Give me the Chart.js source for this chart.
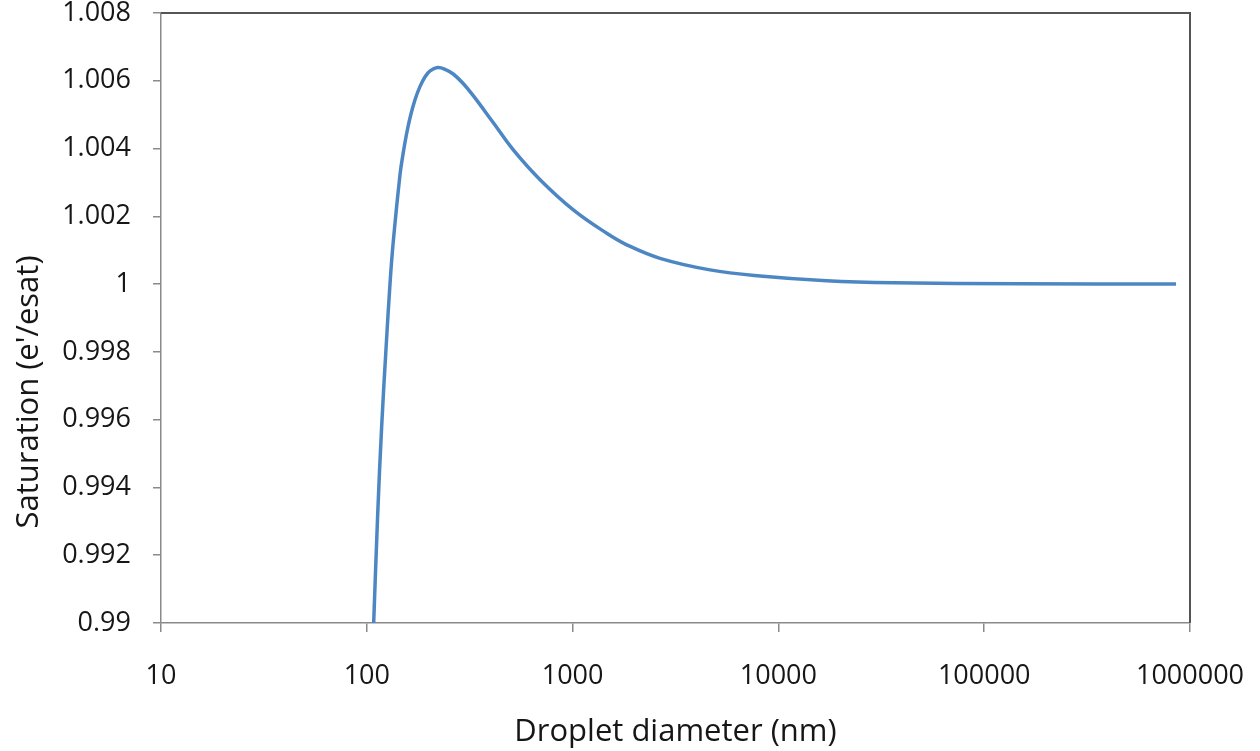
<!DOCTYPE html>
<html>
<head>
<meta charset="utf-8">
<style>
  html, body { margin: 0; padding: 0; background: #ffffff; }
  #wrap { width: 1260px; height: 751px; position: relative; }
</style>
<script src="https://cdn.jsdelivr.net/npm/chart.js@4/dist/chart.umd.min.js"></script>
</head>
<body>
<div id="wrap"><canvas id="chart" width="1260" height="751"></canvas></div>
<script>
// Köhler curve: equilibrium saturation ratio over a solution droplet
const diameterNm = [
  108, 113, 118, 124, 130, 134.5, 145, 150, 156, 163, 171.5, 181, 192, 203,
  220, 240, 263, 294, 329, 412, 515, 695, 1008, 1465, 1832, 2659, 4653,
  8140, 17170, 36170, 149300, 855000
];
const saturation = [
  0.9900, 0.99323, 0.99576, 0.99810, 1.00012, 1.00126, 1.00323, 1.00384, 1.00443,
  1.00496, 1.00544, 1.00582, 1.00612, 1.00629, 1.00639, 1.00634, 1.00620, 1.00592,
  1.00556, 1.00476, 1.00396, 1.00308, 1.00219, 1.0015, 1.00116, 1.00076, 1.00042,
  1.00024, 1.0001, 1.00004, 1.00001, 1.0
];
const xTickValues = [10, 100, 1000, 10000, 100000, 1000000];
const yTickValues = [0.99, 0.992, 0.994, 0.996, 0.998, 1, 1.002, 1.004, 1.006, 1.008];

const xTitle = 'Droplet diameter (nm)';
const yTitle = "Saturation (e'/esat)";

const FONT = "'Open Sans', 'DejaVu Sans', sans-serif";
const TEXT = '#161616';
const AXIS = '#8a8a8a';
const FRAME = '#555555';

const points = diameterNm.map((d, i) => ({ x: d, y: saturation[i] }));

// closes the plot box on the top and right, and writes the vertical axis title
const frameAndTitle = {
  id: 'frameAndTitle',
  afterDraw(chart) {
    const { ctx, chartArea: a } = chart;
    ctx.save();
    ctx.strokeStyle = FRAME;
    ctx.lineWidth = 2;
    ctx.beginPath();
    ctx.moveTo(a.left, a.top);
    ctx.lineTo(a.right, a.top);
    ctx.lineTo(a.right, a.bottom);
    ctx.stroke();

    ctx.fillStyle = TEXT;
    ctx.font = "31px " + FONT;
    ctx.textAlign = 'center';
    ctx.textBaseline = 'middle';
    ctx.translate(29, a.bottom - 231);
    ctx.rotate(-Math.PI / 2);
    ctx.fillText(yTitle, 0, 0);
    ctx.restore();
  }
};

new Chart(document.getElementById('chart'), {
  type: 'line',
  data: {
    datasets: [{
      data: points,
      borderColor: '#4d87c3',
      borderWidth: 3.5,
      pointRadius: 0,
      fill: false,
      tension: 0.4
    }]
  },
  options: {
    responsive: false,
    animation: false,
    events: [],
    layout: { padding: { top: 13, right: 70, left: 0, bottom: 0 } },
    plugins: { legend: { display: false }, tooltip: { enabled: false } },
    scales: {
      x: {
        type: 'logarithmic',
        min: 10,
        max: 1000000,
        afterBuildTicks(scale) { scale.ticks = xTickValues.map(v => ({ value: v })); },
        afterFit(scale) {
          scale.height = 128;
          scale.paddingLeft = 0;
          scale.paddingRight = 0;
        },
        grid: { display: true, drawOnChartArea: false, drawTicks: true, tickLength: 9, color: AXIS, lineWidth: 1.5 },
        border: { display: true, color: AXIS, width: 1.5 },
        ticks: {
          autoSkip: false,
          maxRotation: 0,
          padding: 28,
          color: TEXT,
          font: { family: FONT, size: 27 },
          callback: v => String(v)
        },
        title: {
          display: true,
          text: xTitle,
          color: TEXT,
          font: { family: FONT, size: 31 },
          padding: { top: 0, bottom: 0 }
        }
      },
      y: {
        type: 'linear',
        min: 0.99,
        max: 1.008,
        afterBuildTicks(scale) { scale.ticks = yTickValues.map(v => ({ value: v })); },
        afterFit(scale) {
          scale.width = 161;
          scale.paddingTop = 0;
          scale.paddingBottom = 0;
        },
        grid: { display: true, drawOnChartArea: false, drawTicks: true, tickLength: 8, color: AXIS, lineWidth: 1.5 },
        border: { display: true, color: AXIS, width: 1.5 },
        ticks: {
          autoSkip: false,
          padding: 22,
          color: TEXT,
          font: { family: FONT, size: 27 },
          callback: v => String(parseFloat(Number(v).toFixed(3)))
        }
      }
    }
  },
  plugins: [frameAndTitle]
});
</script>
</body>
</html>
